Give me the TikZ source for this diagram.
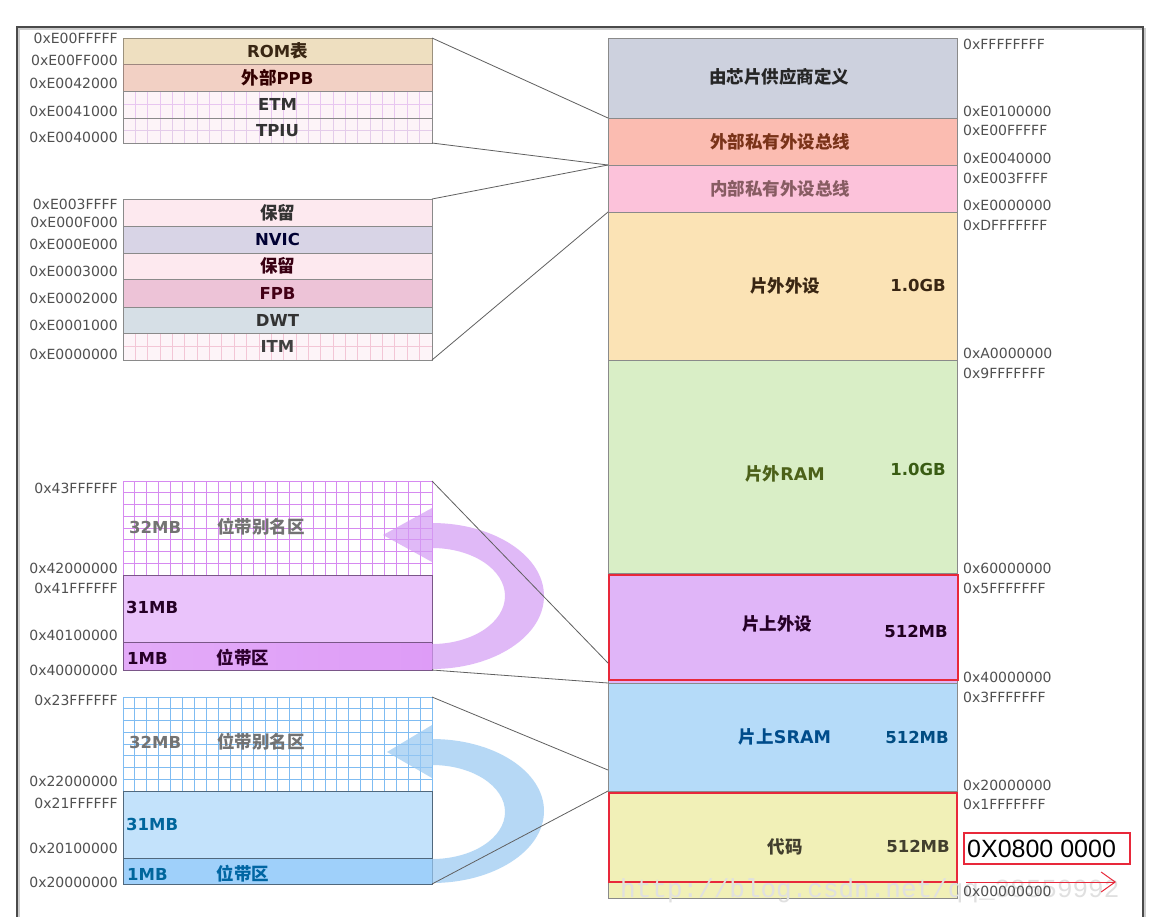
\documentclass[tikz,border=0pt]{standalone}
\usepackage{fontspec}
\setmainfont{DejaVu Sans}
\newfontfamily\cjk{Noto Sans CJK SC}
\newfontfamily\wmfont{Liberation Mono}
\newfontfamily\arialf{Liberation Sans}
\usetikzlibrary{arrows.meta}
\definecolor{vendorc}{HTML}{CDD1DE}
\definecolor{extc}{HTML}{FBBCB1}
\definecolor{intc}{HTML}{FCC2DA}
\definecolor{offpc}{HTML}{FBE3B5}
\definecolor{ramc}{HTML}{D9EEC6}
\definecolor{onpc}{HTML}{E0B5F8}
\definecolor{sramc}{HTML}{B5DBF9}
\definecolor{codec}{HTML}{F1F0B7}
\definecolor{romc}{HTML}{EEDFC0}
\definecolor{ppbc}{HTML}{F2D0C4}
\definecolor{gridbg}{HTML}{FDF4F8}
\definecolor{resc}{HTML}{FDE9EF}
\definecolor{nvicc}{HTML}{D8D4E6}
\definecolor{fpbc}{HTML}{EDC3D7}
\definecolor{dwtc}{HTML}{D6DFE6}
\definecolor{bigpc}{HTML}{EAC3FB}
\definecolor{bbpc}{HTML}{DE9CF7}
\definecolor{bigbc}{HTML}{C3E2FB}
\definecolor{bbbc}{HTML}{9FD0FA}
\definecolor{hexc}{HTML}{505050}
\definecolor{connc}{HTML}{606060}
\definecolor{edgec}{HTML}{8A8A8A}
\definecolor{redc}{HTML}{E8283A}
\definecolor{purparrow}{HTML}{D49CF4}
\definecolor{bluearrow}{HTML}{98C8F2}
\definecolor{pgrid}{HTML}{D68AF0}
\definecolor{bgrid}{HTML}{7FBCF2}
\definecolor{etmgrid}{HTML}{E8C6F0}
\definecolor{tpiugrid}{HTML}{E4CCEA}
\definecolor{itmgrid}{HTML}{F3C6D6}
\definecolor{framec}{HTML}{4A4A4A}
\newcommand\zh[1]{{\cjk\fontsize{17.5}{20}\selectfont #1}}
% grid: x1 y1 x2 y2 ninterior-x ninterior-y color
\newcommand\mygrid[7]{%
  \foreach \gi in {1,...,#5} {\draw[#7, line width=0.9pt] ({#1+\gi*(#3-#1)/(#5+1)},#2) -- ({#1+\gi*(#3-#1)/(#5+1)},#4);}
  \foreach \gj in {1,...,#6} {\draw[#7, line width=0.9pt] (#1,{#2+\gj*(#4-#2)/(#6+1)}) -- (#3,{#2+\gj*(#4-#2)/(#6+1)});}
}
\tikzset{
  mbox/.style={rectangle, inner sep=0pt, outer sep=0pt, anchor=north west, line width=0.7pt, draw=edgec},
  lw/.style={minimum width=309pt},
  rw/.style={minimum width=349pt},
  hexl/.style={font=\fontsize{14}{16}\selectfont, text=hexc, inner sep=0pt, anchor=east},
  hexr/.style={font=\fontsize{14}{16}\selectfont, text=hexc, inner sep=0pt, anchor=west},
  lbl/.style={font=\bfseries\fontsize{16.5}{19}\selectfont, inner sep=0pt},
  zlbl/.style={font=\bfseries\fontsize{17.5}{20}\selectfont, inner sep=0pt},
  conn/.style={draw=connc, line width=0.8pt},
}
\begin{document}
\begin{tikzpicture}[x=1pt,y=-1pt]
\useasboundingbox (0,0) rectangle (1153,916);
\fill[white] (0,0) rectangle (1153,916);
% frame
\draw[gray!40, line width=1.2pt] (19,940) -- (19,29) -- (1145,29) -- (1145,940);
\draw[framec, line width=1.4pt] (17,940) -- (17,27) -- (1143,27) -- (1143,940);

% ===== right column =====
\node[mbox, rw, fill=vendorc, minimum height=80pt] (vendor) at (608,38) {};
\node[mbox, rw, fill=extc, minimum height=47pt] (ext) at (608,118) {};
\node[mbox, rw, fill=intc, minimum height=47pt] (int) at (608,165) {};
\node[mbox, rw, fill=offpc, minimum height=148pt] (offp) at (608,212) {};
\node[mbox, rw, fill=ramc, minimum height=213pt] (ram) at (608,360) {};
\node[mbox, rw, fill=onpc, minimum height=110pt] (onp) at (608,573) {};
\node[mbox, rw, fill=sramc, minimum height=108pt] (sram) at (608,683) {};
\node[mbox, rw, fill=codec, minimum height=107pt] (code) at (608,791) {};
\node[mbox, draw=redc, line width=1.6pt, minimum width=349pt, minimum height=105pt] (onpred) at (609,575) {};
\node[mbox, draw=redc, line width=1.6pt, minimum width=348pt, minimum height=89pt] (codered) at (609,793) {};

\node[zlbl, text=black!85] (vendorT) at (779,77) {\zh{由芯片供应商定义}};
\node[zlbl, text=black!70!red!60!brown] (extT) at (780,142) {\zh{外部私有外设总线}};
\node[zlbl, text=black!65!magenta!70!brown] (intT) at (780,189) {\zh{内部私有外设总线}};
\node[zlbl, text=black!70!brown] (offpT) at (785,286) {\zh{片外外设}};
\node[lbl, text=black!70!brown] (offpS) at (918,285) {1.0GB};
\node[zlbl, text=black!70!green!60!brown] (ramT) at (785,474) {\zh{片外}RAM};
\node[lbl, text=black!70!green!70!brown] (ramS) at (918,469) {1.0GB};
\node[zlbl, text=black!70!violet] (onpT) at (777,624) {\zh{片上外设}};
\node[lbl, text=black!75!violet] (onpS) at (916,631) {512MB};
\node[zlbl, text=black!65!blue!70!cyan] (sramT) at (785,737) {\zh{片上}SRAM};
\node[lbl, text=black!70!blue!70!cyan] (sramS) at (917,737) {512MB};
\node[zlbl, text=black!70!olive] (codeT) at (785,847) {\zh{代码}};
\node[lbl, text=black!70!olive] (codeS) at (918,846) {512MB};

% right hex labels
\node[hexr] (r1) at (963,44) {0xFFFFFFFF};
\node[hexr] (r2) at (963,111) {0xE0100000};
\node[hexr] (r3) at (963,130) {0xE00FFFFF};
\node[hexr] (r4) at (963,158) {0xE0040000};
\node[hexr] (r5) at (963,178) {0xE003FFFF};
\node[hexr] (r6) at (963,205) {0xE0000000};
\node[hexr] (r7) at (963,225) {0xDFFFFFFF};
\node[hexr] (r8) at (963,353) {0xA0000000};
\node[hexr] (r9) at (963,373) {0x9FFFFFFF};
\node[hexr] (r10) at (963,568) {0x60000000};
\node[hexr] (r11) at (963,588) {0x5FFFFFFF};
\node[hexr] (r12) at (963,677) {0x40000000};
\node[hexr] (r13) at (963,697) {0x3FFFFFFF};
\node[hexr] (r14) at (963,785) {0x20000000};
\node[hexr] (r15) at (963,804) {0x1FFFFFFF};

% watermark
\node[inner sep=0pt, anchor=base west, font=\wmfont\fontsize{26}{28}\selectfont, text=black!12] (wm) at (620,897) {http://blog.csdn.net/qq\_38559992};
\node[hexr] (r16) at (963,891) {0x00000000};

% red boxed address and arrow
\node[mbox, draw=redc, line width=1.3pt, minimum width=166pt, minimum height=31pt] (flash) at (964,833) {};
\node[inner sep=0pt, anchor=west, font=\arialf\fontsize{25}{27}\selectfont] (flashT) at (967,849) {0X0800 0000};
\coordinate (arrS) at (966,882);
\coordinate (arrE) at (1116,882);
\draw[redc, line width=1pt, -{Straight Barb[length=14pt,width=20pt,line width=1pt]}] (arrS) -- (arrE);

% ===== top-left block =====
\node[mbox, lw, fill=romc, draw=black!35!romc, minimum height=26pt] (rom) at (123,38) {};
\node[mbox, lw, fill=ppbc, draw=black!35!ppbc, minimum height=27pt] (ppb) at (123,64) {};
\node[mbox, lw, fill=gridbg, minimum height=27pt] (etm) at (123,91) {};
\node[mbox, lw, fill=gridbg, minimum height=25pt] (tpiu) at (123,118) {};
\mygrid{123}{91}{432}{118}{24}{1}{etmgrid}
\mygrid{123}{118}{432}{143}{24}{1}{tpiugrid}
\draw[edgec, line width=0.7pt] (etm.north west) rectangle (tpiu.south east);
\draw[edgec, line width=0.7pt] (tpiu.north west) -- (tpiu.north east);
\node[lbl, text=black!70!brown] (romT) at (rom.center) {ROM\zh{表}};
\node[lbl, text=black!80!red] (ppbT) at (ppb.center) {\zh{外部}PPB};
\node[lbl, text=black!80] (etmT) at (etm.center) {ETM};
\node[lbl, text=black!80] (tpiuT) at (tpiu.center) {TPIU};

\node[hexl] (l1) at (118,38) {0xE00FFFFF};
\node[hexl] (l2) at (118,60) {0xE00FF000};
\node[hexl] (l3) at (118,83) {0xE0042000};
\node[hexl] (l4) at (118,111) {0xE0041000};
\node[hexl] (l5) at (118,137) {0xE0040000};

% ===== second block =====
\node[mbox, lw, fill=resc, minimum height=27pt] (res1) at (123,199) {};
\node[mbox, lw, fill=nvicc, minimum height=27pt] (nvic) at (123,226) {};
\node[mbox, lw, fill=resc, minimum height=26pt] (res2) at (123,253) {};
\node[mbox, lw, fill=fpbc, minimum height=28pt] (fpb) at (123,279) {};
\node[mbox, lw, fill=dwtc, minimum height=26pt] (dwt) at (123,307) {};
\node[mbox, lw, fill=gridbg, minimum height=27pt] (itm) at (123,333) {};
\mygrid{123}{333}{432}{360}{24}{1}{itmgrid}
\draw[edgec, line width=0.7pt] (itm.north west) rectangle (itm.south east);
\node[lbl, text=black!80] (res1T) at (res1.center) {\zh{保留}};
\node[lbl, text=black!80!blue] (nvicT) at (nvic.center) {NVIC};
\node[lbl, text=black!70!purple] (res2T) at (res2.center) {\zh{保留}};
\node[lbl, text=black!65!purple] (fpbT) at (fpb.center) {FPB};
\node[lbl, text=black!80] (dwtT) at (dwt.center) {DWT};
\node[lbl, text=black!75] (itmT) at (itm.center) {ITM};

\node[hexl] (m1) at (118,204) {0xE003FFFF};
\node[hexl] (m2) at (118,222) {0xE000F000};
\node[hexl] (m3) at (118,244) {0xE000E000};
\node[hexl] (m4) at (118,271) {0xE0003000};
\node[hexl] (m5) at (118,298) {0xE0002000};
\node[hexl] (m6) at (118,325) {0xE0001000};
\node[hexl] (m7) at (118,354) {0xE0000000};

% ===== purple block =====
\node[mbox, lw, fill=white, draw=pgrid, minimum height=94pt] (aliasP) at (123,481) {};
\mygrid{123}{481}{432}{575}{25}{7}{pgrid}
\node[mbox, lw, fill=bigpc, draw=black!45!bbpc, minimum height=67pt] (bigP) at (123,575) {};
\node[mbox, lw, left color=bbpc!85, right color=bbpc, draw=black!45!bbpc, minimum height=28pt] (bbP) at (123,642) {};
\node[lbl, text=black!55, anchor=west] (aliasPS) at (129,527) {32MB};
\node[zlbl, text=black!55] (aliasPT) at (261,527) {\zh{位带别名区}};
\node[lbl, text=black!70!violet, anchor=west] (bigPS) at (126,607) {31MB};
\node[lbl, text=black!70!violet, anchor=west] (bbPS) at (127,658) {1MB};
\node[zlbl, text=black!65!violet] (bbPT) at (243,658) {\zh{位带区}};

\fill[purparrow, opacity=0.7] (432,523) arc[start angle=-90, end angle=90, x radius=112, y radius=73]
  -- (432,644) arc[start angle=90, end angle=-90, x radius=73, y radius=48]
  -- (432,562) -- (383,535) -- (432,508) -- cycle;

\node[hexl] (p1) at (118,488) {0x43FFFFFF};
\node[hexl] (p2) at (118,568) {0x42000000};
\node[hexl] (p3) at (118,588) {0x41FFFFFF};
\node[hexl] (p4) at (118,635) {0x40100000};
\node[hexl] (p5) at (118,670) {0x40000000};

% ===== blue block =====
\node[mbox, lw, fill=white, draw=bgrid, minimum height=94pt] (aliasB) at (123,697) {};
\mygrid{123}{697}{432}{791}{25}{7}{bgrid}
\node[mbox, lw, fill=bigbc, draw=black!50!bbbc, minimum height=67pt] (bigB) at (123,791) {};
\node[mbox, lw, fill=bbbc, draw=black!50!bbbc, minimum height=26pt] (bbB) at (123,858) {};
\node[lbl, text=black!55, anchor=west] (aliasBS) at (129,742) {32MB};
\node[zlbl, text=black!55] (aliasBT) at (261,742) {\zh{位带别名区}};
\node[lbl, text=black!65!blue!60!cyan, anchor=west] (bigBS) at (126,824) {31MB};
\node[lbl, text=black!65!blue!60!cyan, anchor=west] (bbBS) at (127,874) {1MB};
\node[zlbl, text=black!60!blue!60!cyan] (bbBT) at (243,874) {\zh{位带区}};

\fill[bluearrow, opacity=0.7] (432,739) arc[start angle=-90, end angle=90, x radius=112, y radius=72]
  -- (432,859) arc[start angle=90, end angle=-90, x radius=73, y radius=47]
  -- (432,778) -- (387,752) -- (432,725) -- cycle;

\node[hexl] (b1) at (118,700) {0x23FFFFFF};
\node[hexl] (b2) at (118,781) {0x22000000};
\node[hexl] (b3) at (118,803) {0x21FFFFFF};
\node[hexl] (b4) at (118,848) {0x20100000};
\node[hexl] (b5) at (118,882) {0x20000000};

% ===== connectors =====
\coordinate (pHit) at (608,663);
\coordinate (sHit) at (608,770);
\draw[conn] (rom.north east) -- (ext.north west);
\draw[conn] (tpiu.south east) -- (int.north west);
\draw[conn] (res1.north east) -- (int.north west);
\draw[conn] (itm.south east) -- (offp.north west);
\draw[conn] (aliasP.north east) -- (pHit);
\draw[conn] (bbP.south east) -- (onp.south west);
\draw[conn] (aliasB.north east) -- (sHit);
\draw[conn] (bbB.south east) -- (code.north west);
\end{tikzpicture}
\end{document}
